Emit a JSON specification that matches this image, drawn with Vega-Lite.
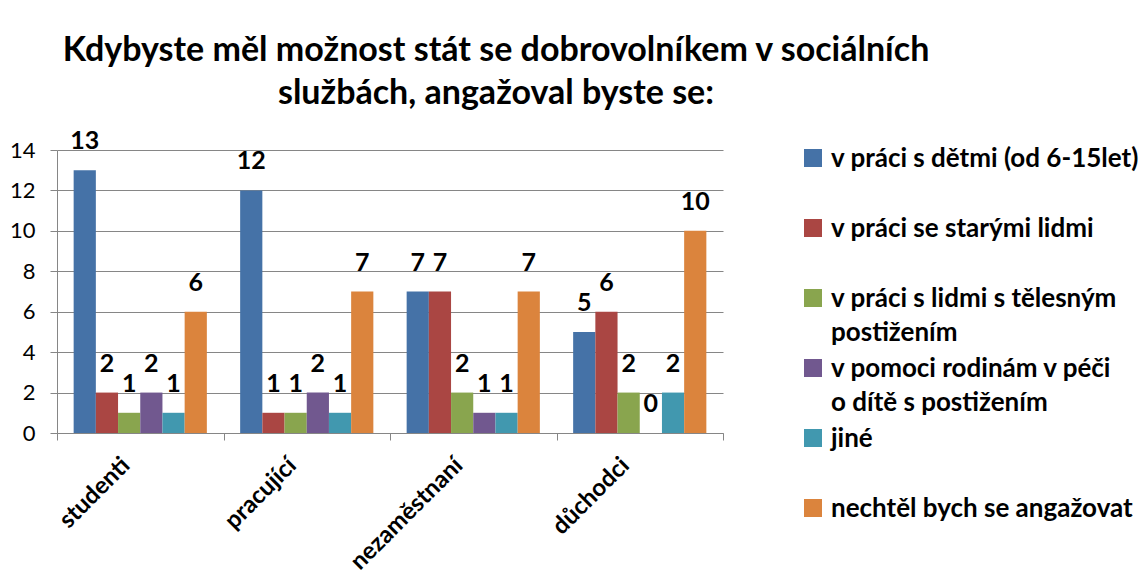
{
  "$schema": "https://vega.github.io/schema/vega-lite/v6.json",
  "width": 666,
  "height": 283,
  "autosize": "none",
  "padding": {"left": 57, "top": 150, "right": 422, "bottom": 150},
  "background": "white",
  "config": {"view": {"stroke": null}},
  "title": {
    "text": ["Kdybyste měl možnost stát se dobrovolníkem v sociálních", "službách, angažoval byste se:"],
    "anchor": "middle",
    "frame": "group",
    "dx": 106,
    "font": "Lato",
    "fontSize": 34,
    "fontWeight": "bold",
    "color": "black",
    "lineHeight": 43,
    "offset": 18
  },
  "data": {
    "values": [
      {"group": "studenti", "series": "v práci s dětmi (od 6-15let)", "value": 13},
      {"group": "studenti", "series": "v práci se starými lidmi", "value": 2},
      {"group": "studenti", "series": "v práci s lidmi s tělesným postižením", "value": 1},
      {"group": "studenti", "series": "v pomoci rodinám v péči o dítě s postižením", "value": 2},
      {"group": "studenti", "series": "jiné", "value": 1},
      {"group": "studenti", "series": "nechtěl bych se angažovat", "value": 6},
      {"group": "pracující", "series": "v práci s dětmi (od 6-15let)", "value": 12},
      {"group": "pracující", "series": "v práci se starými lidmi", "value": 1},
      {"group": "pracující", "series": "v práci s lidmi s tělesným postižením", "value": 1},
      {"group": "pracující", "series": "v pomoci rodinám v péči o dítě s postižením", "value": 2},
      {"group": "pracující", "series": "jiné", "value": 1},
      {"group": "pracující", "series": "nechtěl bych se angažovat", "value": 7},
      {"group": "nezaměstnaní", "series": "v práci s dětmi (od 6-15let)", "value": 7},
      {"group": "nezaměstnaní", "series": "v práci se starými lidmi", "value": 7},
      {"group": "nezaměstnaní", "series": "v práci s lidmi s tělesným postižením", "value": 2},
      {"group": "nezaměstnaní", "series": "v pomoci rodinám v péči o dítě s postižením", "value": 1},
      {"group": "nezaměstnaní", "series": "jiné", "value": 1},
      {"group": "nezaměstnaní", "series": "nechtěl bych se angažovat", "value": 7},
      {"group": "důchodci", "series": "v práci s dětmi (od 6-15let)", "value": 5},
      {"group": "důchodci", "series": "v práci se starými lidmi", "value": 6},
      {"group": "důchodci", "series": "v práci s lidmi s tělesným postižením", "value": 2},
      {"group": "důchodci", "series": "v pomoci rodinám v péči o dítě s postižením", "value": 0},
      {"group": "důchodci", "series": "jiné", "value": 2},
      {"group": "důchodci", "series": "nechtěl bych se angažovat", "value": 10}
    ]
  },
  "encoding": {
    "x": {
      "field": "group",
      "type": "nominal",
      "sort": ["studenti", "pracující", "nezaměstnaní", "důchodci"],
      "scale": {"paddingInner": 0, "paddingOuter": 0},
      "axis": {
        "title": null,
        "tickBand": "extent",
        "labelAngle": -45,
        "labelAlign": "right",
        "labelBaseline": "top",
        "labelFont": "Lato",
        "labelFontSize": 24,
        "labelFontWeight": "bold",
        "labelColor": "black",
        "labelOffset": -23,
        "labelPadding": 13,
        "labelLimit": 300,
        "domainColor": "#868686",
        "tickColor": "#868686",
        "tickSize": 7,
        "grid": false
      }
    },
    "xOffset": {
      "field": "series",
      "sort": ["v práci s dětmi (od 6-15let)", "v práci se starými lidmi", "v práci s lidmi s tělesným postižením", "v pomoci rodinám v péči o dítě s postižením", "jiné", "nechtěl bych se angažovat"],
      "scale": {"paddingInner": 0, "paddingOuter": 0.75}
    },
    "y": {
      "field": "value",
      "type": "quantitative",
      "scale": {"domain": [0, 14]},
      "axis": {
        "title": null,
        "values": [0, 2, 4, 6, 8, 10, 12, 14],
        "labelFont": "Lato",
        "labelFontSize": 22,
        "labelColor": "black",
        "labelPadding": 15,
        "tickSize": 7,
        "tickColor": "#868686",
        "domainColor": "#868686",
        "gridColor": "#868686",
        "grid": true
      }
    }
  },
  "layer": [
    {
      "mark": {"type": "bar"},
      "encoding": {
        "color": {
          "field": "series",
          "type": "nominal",
          "sort": null,
          "scale": {
            "domain": ["v práci s dětmi (od 6-15let)", "v práci se starými lidmi", "v práci s lidmi s tělesným postižením", "v pomoci rodinám v péči o dítě s postižením", "jiné", "nechtěl bych se angažovat"],
            "range": ["#4572A7", "#AA4643", "#89A54E", "#71588F", "#4198AF", "#DB843D"]
          },
          "legend": {
            "title": null,
            "orient": "none",
            "legendX": 743,
            "legendY": -5,
            "padding": 0,
            "symbolType": "square",
            "symbolSize": 324,
            "symbolStrokeWidth": 0,
            "symbolOpacity": 1,
            "labelFont": "Lato",
            "labelFontSize": 26,
            "labelFontWeight": "bold",
            "labelColor": "black",
            "labelLimit": 500,
            "labelOffset": 5,
            "labelBaseline": "top",
            "gridAlign": "all",
            "rowPadding": 9,
            "labelExpr": "datum.label == 'v práci s lidmi s tělesným postižením' ? ['v práci s lidmi s tělesným', 'postižením'] : datum.label == 'v pomoci rodinám v péči o dítě s postižením' ? ['v pomoci rodinám v péči', 'o dítě s postižením'] : datum.label",
            "encode": {"labels": {"update": {"lineHeight": {"value": 34}, "dy": {"value": -12}}}}
          }
        }
      }
    },
    {
      "mark": {"type": "text", "dy": -21, "baseline": "alphabetic", "font": "Lato", "fontSize": 25, "fontWeight": "bold", "color": "black"},
      "encoding": {"text": {"field": "value", "type": "quantitative"}}
    }
  ]
}
